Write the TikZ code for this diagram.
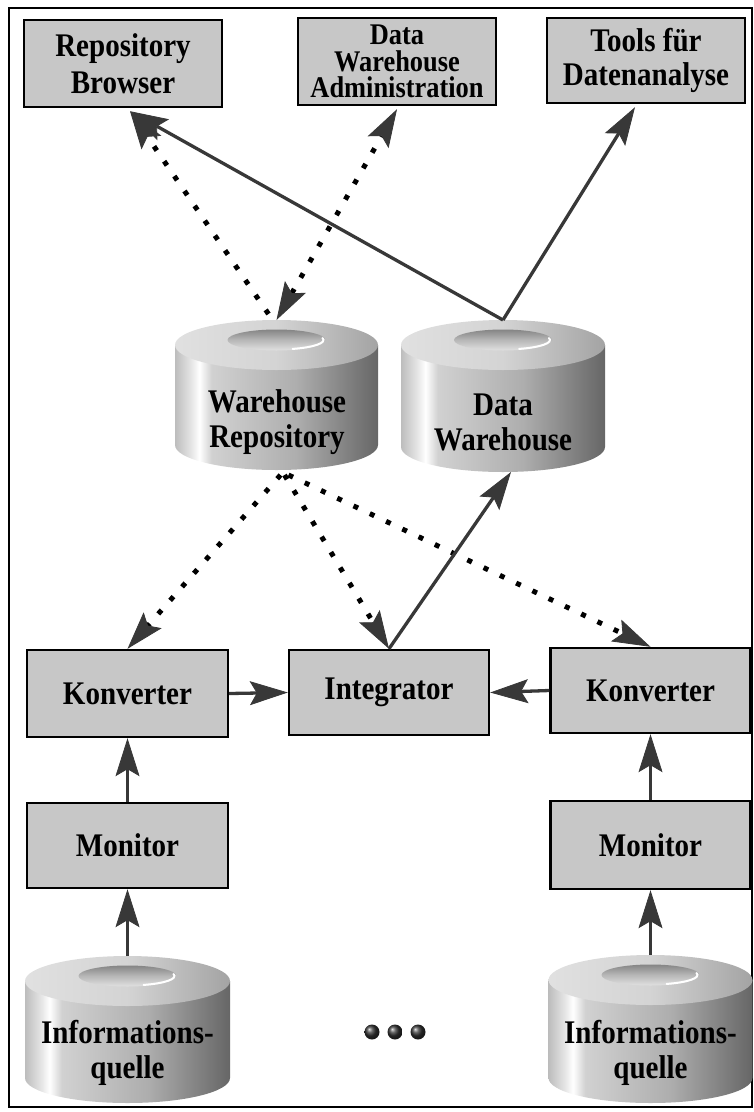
\documentclass[tikz,border=0pt]{standalone}
\usepackage{fontspec}
\setmainfont{Liberation Serif}
\newfontfamily\labelfont{Liberation Serif}[FakeStretch=0.88]
\usetikzlibrary{arrows.meta,calc}

\definecolor{boxfill}{gray}{0.78}
\definecolor{linkgray}{gray}{0.22}

% side wall of a drum: light rim, bright stripe, darkening to the right
\pgfdeclarehorizontalshading{drumbody}{100bp}{%
  color(0bp)=(black!26); color(25bp)=(black!26); color(29bp)=(black!10);
  color(31bp)=(white); color(34bp)=(black!18); color(55bp)=(black!32);
  color(75bp)=(black!60); color(100bp)=(black!60)}
% top face of a drum
\pgfdeclarehorizontalshading{drumtop}{100bp}{%
  color(0bp)=(black!12); color(25bp)=(black!12); color(50bp)=(black!17);
  color(75bp)=(black!36); color(100bp)=(black!36)}
% recess in the top face, shadowed at its far side
\pgfdeclareverticalshading{drumhole}{100bp}{%
  color(0bp)=(black!12); color(25bp)=(black!12); color(50bp)=(black!28);
  color(75bp)=(black!48); color(100bp)=(black!48)}

\tikzset{
  unit/.style={draw=black, line width=2.4pt, fill=boxfill, inner sep=0pt,
    align=center, font=\labelfont\bfseries\fontsize{33}{37}\selectfont},
  drumframe/.style={inner sep=0pt, outer sep=0pt},
  drumlabel/.style={align=center, inner sep=0pt,
    font=\labelfont\bfseries\fontsize{33}{35}\selectfont},
  bigtip/.tip={Stealth[length=38pt,width=24pt,inset=7pt,line width=0.8pt,color=linkgray,fill=linkgray]},
  flow/.style={draw=linkgray, line width=3.3pt, -bigtip},
  dotflow/.style={draw=black, line width=5pt, dash pattern=on 5pt off 13pt},
}

% \drum{name}{centre x}{top y}{bottom y}{width}
\newcommand\drum[5]{%
  \pgfmathsetmacro\drumrx{#5/2}%
  \pgfmathsetmacro\drumtc{#3+25}%
  \pgfmathsetmacro\drumbc{#4-25}%
  \pgfmathsetmacro\drumL{#2-\drumrx}%
  \pgfmathsetmacro\drumR{#2+\drumrx}%
  \pgfmathsetmacro\drumhc{\drumtc-5}%
  \pgfmathsetmacro\drumh{#4-#3}%
  \shade[shading=drumbody] (\drumL,\drumtc) -- (\drumL,\drumbc)
    arc[start angle=180,end angle=360,x radius=\drumrx pt,y radius=25pt]
    -- (\drumR,\drumtc) -- cycle;
  \shade[shading=drumtop] (#2,\drumtc) ellipse[x radius=\drumrx pt,y radius=25pt];
  \shade[shading=drumhole] (#2,\drumhc) ellipse[x radius=49pt,y radius=10.5pt];
  \draw[white, line width=2pt, line cap=round]
    ({#2+47*cos(-70)},{\drumhc+9.5*sin(70)})
    arc[start angle=-70,end angle=12,x radius=47pt,y radius=9.5pt];
  \node[drumframe, minimum width=#5pt, minimum height=\drumh pt]
    (#1) at (#2,{(#3+#4)/2}) {};
}

\begin{document}
\begin{tikzpicture}[x=1pt,y=-1pt]
  \useasboundingbox (0,0) rectangle (754,1112);
  \draw[line width=1.5pt] (9,8) rectangle (752,1107);

  % tools at the top
  \node[unit, minimum width=198pt, minimum height=87pt] (rb) at (123,63.5)
    {Repository\\Browser};
  \node[unit, minimum width=198pt, minimum height=87pt,
        font=\labelfont\bfseries\fontsize{30}{26.5}\selectfont] (dwa) at (397,61.5)
    {Data\\Warehouse\\Administration};
  \node[unit, minimum width=198pt, minimum height=85pt,
        font=\labelfont\bfseries\fontsize{33}{34}\selectfont] (tools) at (646,60.5)
    {Tools für\\Datenanalyse};

  % central stores
  \drum{wr}{276.5}{320}{470}{203}
  \node[drumlabel] (wrtext) at (277,422) {Warehouse\\Repository};
  \drum{dw}{503}{320}{472}{204}
  \node[drumlabel] (dwtext) at (503,422) {Data\\Warehouse};

  % integration layer
  \node[unit, minimum width=201pt, minimum height=87pt] (konv1) at (127.5,693.5) {Konverter};
  \node[unit, minimum width=200pt, minimum height=85pt] (integ) at (389,692.5) {Integrator};
  \node[unit, minimum width=200pt, minimum height=85pt] (konv2) at (650.5,690.5) {Konverter};
  \node[unit, minimum width=201pt, minimum height=85pt] (mon1) at (127.5,845.5) {Monitor};
  \node[unit, minimum width=200pt, minimum height=88pt] (mon2) at (650.5,845) {Monitor};

  % sources
  \drum{iq1}{127.5}{956}{1103}{205}
  \node[drumlabel] (iq1text) at (127.5,1053) {Informations-\\quelle};
  \drum{iq2}{650.5}{955}{1103}{204}
  \node[drumlabel] (iq2text) at (650.5,1053) {Informations-\\quelle};

  \foreach \dx in {372,395,418}
    \shade[ball color=black!80] (\dx,1032) circle (7.5pt);

  % metadata links
  \draw[dotflow, -bigtip] ($(wr.north)+(-8,-6)$) -- ($(rb.south)+(7,3)$);
  \draw[dotflow, {bigtip}-{bigtip}] (wr.north) -- ($(dwa.south)+(0,3)$);
  \draw[dotflow, -bigtip] ($(wr.south)+(4,5)$) -- (konv1.north);
  \draw[dotflow, -bigtip] ($(wr.south)+(8,5)$) -- (integ.north);
  \draw[dotflow, -bigtip] ($(wr.south)+(12,5)$) -- (konv2.north);

  % data flow
  \draw[flow] (dw.north) -- ($(rb.south)+(7,3)$);
  \draw[flow] (dw.north) -- ($(tools.south)+(-11,3)$);
  \draw[flow] (integ.north) -- ($(dw.south)+(8,0)$);
  \draw[flow] (konv1.east) -- (integ.west);
  \draw[flow] (konv2.west) -- (integ.east);
  \draw[flow] (mon1.north) -- (konv1.south);
  \draw[flow] (mon2.north) -- (konv2.south);
  \draw[flow] (iq1.north) -- (mon1.south);
  \draw[flow] (iq2.north) -- (mon2.south);
\end{tikzpicture}
\end{document}
